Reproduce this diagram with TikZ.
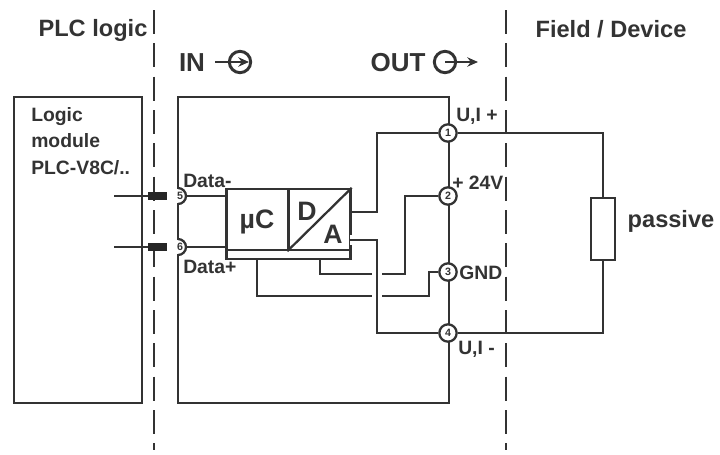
\documentclass[tikz,border=0pt]{standalone}
\usepackage{fontspec}
\setmainfont{Liberation Sans}
\usetikzlibrary{positioning, arrows.meta}
\definecolor{wirecol}{gray}{0.2}

\tikzset{
    title/.style = {font=\fontsize{17.7}{20}\selectfont\bfseries, text=wirecol, inner sep=0pt},
    bigtitle/.style = {font=\fontsize{19.5}{22}\selectfont\bfseries, text=wirecol, inner sep=0pt},
    chip/.style = {font=\fontsize{20}{22}\selectfont\bfseries, text=wirecol, inner sep=0pt},
    tag/.style = {font=\fontsize{14.5}{16}\selectfont\bfseries, text=wirecol, inner sep=0pt},
    wire/.style = {draw=wirecol, line width=1.9pt},
    halo/.style = {preaction={draw=white, line width=7pt}},
    box/.style = {draw=wirecol, line width=1.7pt},
    border/.style = {draw=wirecol, line width=2pt, dash pattern=on 18pt off 7pt},
    terminal/.style = {circle, draw=wirecol, fill=white, line width=1.7pt, minimum size=13pt,
        inner sep=0pt, font=\fontsize{8}{8}\selectfont\bfseries, text=wirecol},
    halfterm/.style = {fill=white, minimum size=10pt, inner sep=0pt,
        font=\fontsize{8}{8}\selectfont\bfseries, text=wirecol},
    symbol/.style = {circle, draw=wirecol, line width=2.2pt, minimum size=16pt, inner sep=0pt},
    flow/.style = {draw=wirecol, line width=2.2pt, -{Stealth[length=8pt, width=7pt]}},
    plug/.style = {fill=black!85, inner sep=0pt, minimum width=14pt, minimum height=6pt}
}

\begin{document}
\begin{tikzpicture} [x=0.75pt, y=-0.75pt,
                node distance = 47.25pt,
                on grid]
            \useasboundingbox (0,0) rectangle (720,454);

            % Outer boxes
            \node (logic) [box, minimum width=96pt, minimum height=229.5pt] at (78,250) {};
            \node (device) [box, minimum width=203.25pt, minimum height=229.5pt] at (313.5,250) {};

            % Borders
            \coordinate (bordera) at (154,10);
            \coordinate (borderb) at (506,10);
            \draw [border] (bordera) -- (154,450);
            \draw [border] (borderb) -- (506,450);

            % Headings
            \node (plc) [title] at (93,30) {PLC logic};
            \node (field) [title] at (611,29) {Field / Device};
            \node (in) [bigtitle] at (192,63) {IN};
            \node (out) [bigtitle] at (398,63) {OUT};

            % Module text
            \node (modname) [tag, align=left, anchor=north west,
                font=\fontsize{14.5}{20}\selectfont\bfseries] at (31,107) {Logic\\module\\PLC-V8C/..};

            % Signal symbols
            \node (insym) [symbol] at (240,62) {};
            \node (outsym) [symbol] at (445,62) {};
            \coordinate (intail) at (215,62);
            \coordinate (intip) at (249,62);
            \coordinate (outtip) at (478,62);
            \draw [flow] (intail) -- (intip);
            \draw [flow] (outsym.center) -- (outtip);

            % Converter
            \node (uc) [box, minimum width=46.5pt, minimum height=45.75pt] at (257.5,219.5) {};
            \node (da) [box, minimum width=46.5pt, minimum height=45.75pt,
                right = 46.5pt of uc] {};
            \node (strip) [box, minimum width=93pt, minimum height=6.75pt] at (288.5,254.5) {};
            \draw [box] (da.south west) -- (da.north east);
            \node (ucname) [chip] at (257,222) {µC};
            \node (d) [chip] at (307,211) {D};
            \node (a) [chip] at (333,234) {A};

            % Terminals
            \node (term1) [terminal] at (448,133) {1};
            \node (term2) [terminal, below = 47.25pt of term1] {2};
            \node (term3) [terminal, below = 57pt of term2] {3};
            \node (term4) [terminal, below = 45.75pt of term3] {4};
            \node (term5) [halfterm] at (180,196) {5};
            \node (term6) [halfterm, below = 38.25pt of term5] {6};
            \draw [box] (term5) ++(-2,-8) arc [start angle=90, end angle=-90, radius=6pt];
            \draw [box] (term6) ++(-2,-8) arc [start angle=90, end angle=-90, radius=6pt];

            % Terminal labels
            \node (datam) [tag, anchor=west] at (183,181) {Data-};
            \node (datap) [tag, anchor=west] at (183,267) {Data+};
            \node (uip) [tag, anchor=west] at (456,116) {U,I +};
            \node (volt) [tag, anchor=west] at (452,183) {+ 24V};
            \node (gnd) [tag, anchor=west] at (459,273) {GND};
            \node (uim) [tag, anchor=west] at (458,349) {U,I -};

            % Load
            \node (res) [box, fill=white, minimum width=18.5pt, minimum height=46.5pt] at (603,229) {};
            \node (passive) [title] at (671,221) {passive};

            % Plugs
            \node (plug5) [plug] at (157.5,196) {};
            \node (plug6) [plug] at (157.5,247) {};
            \coordinate (pin5) at (114,196);
            \coordinate (pin6) at (114,247);

            % Tap points on the converter
            \coordinate (outp) at (350,212);
            \coordinate (outm) at (350,240);
            \coordinate (stripa) at (257,259);
            \coordinate (stripb) at (320,259);

            % Wires
            \path [wire]
                (pin5) edge (plug5)
                (pin6) edge (plug6)
                (term5.east) edge (term5 -| uc.west)
                (term6.east) edge (term6 -| uc.west);
            \draw [wire] (stripb) |- ++(85,15) |- (term2);
            \draw [wire] (stripa) |- ++(172,37) |- (term3);
            \draw [wire] (outp) -- ++(27,0) |- (term1);
            \draw [wire, halo] (outm) -- ++(27,0) |- (term4);
            \draw [wire] (term1) -| (res.north);
            \draw [wire] (res.south) |- (term4);
\end{tikzpicture}
\end{document}
